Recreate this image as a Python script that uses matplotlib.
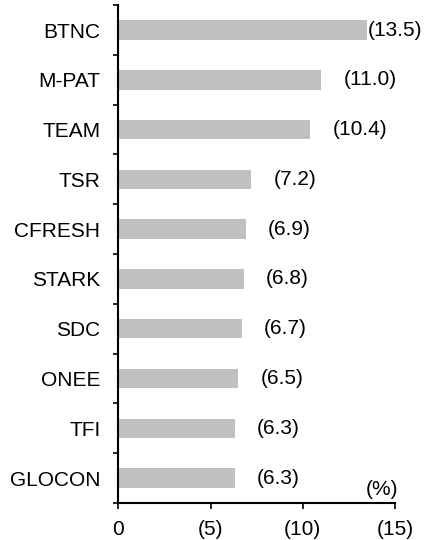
import matplotlib.pyplot as plt
import numpy as np

plt.rcParams['font.family'] = ['Liberation Sans', 'DejaVu Sans']

companies = ["BTNC", "M-PAT", "TEAM", "TSR", "CFRESH",
             "STARK", "SDC", "ONEE", "TFI", "GLOCON"]
values = [13.5, 11.0, 10.4, 7.2, 6.9, 6.8, 6.7, 6.5, 6.3, 6.3]
value_labels = ["(13.5)", "(11.0)", "(10.4)", "(7.2)", "(6.9)",
                "(6.8)", "(6.7)", "(6.5)", "(6.3)", "(6.3)"]
xticks = [0, 5, 10, 15]
xtick_labels = ["0", "(5)", "(10)", "(15)"]

fs = 15

fig = plt.figure(figsize=(4.37, 5.4), dpi=100)
ax = fig.add_axes([0.271, 0.0685, 0.6325, 0.922])

n = len(companies)
ypos = np.arange(n)[::-1]
ax.barh(ypos, values, height=0.39, color="#c0c0c0")

for y, v, lab in zip(ypos, values, value_labels):
    # the longest bar has its label tight against the bar end
    off = 0.5 if v == max(values) else 16
    ax.annotate(lab, (v, y), xytext=(off, 0), textcoords="offset points",
                ha="left", va="center", fontsize=fs, color="black")

ax.set_xlim(0, 15)
ax.set_ylim(-0.5, n - 0.5)
ax.set_xticks(xticks)
ax.set_xticklabels(xtick_labels, fontsize=fs)
ax.set_yticks(ypos)
ax.set_yticklabels(companies, fontsize=fs)
ax.set_yticks(np.arange(n + 1) - 0.5, minor=True)

ax.tick_params(axis="y", which="major", length=0, pad=13)
ax.tick_params(axis="y", which="minor", length=3.5, width=1.2, direction="out")
ax.tick_params(axis="x", which="major", length=4.5, width=1.2, direction="out", pad=8)

for side in ["top", "right"]:
    ax.spines[side].set_visible(False)
for side in ["left", "bottom"]:
    ax.spines[side].set_linewidth(1.5)

ax.text(0.953, 0.028, "(%)", transform=ax.transAxes, ha="center",
        va="center", fontsize=fs)

fig.savefig("out.png", dpi=100)
